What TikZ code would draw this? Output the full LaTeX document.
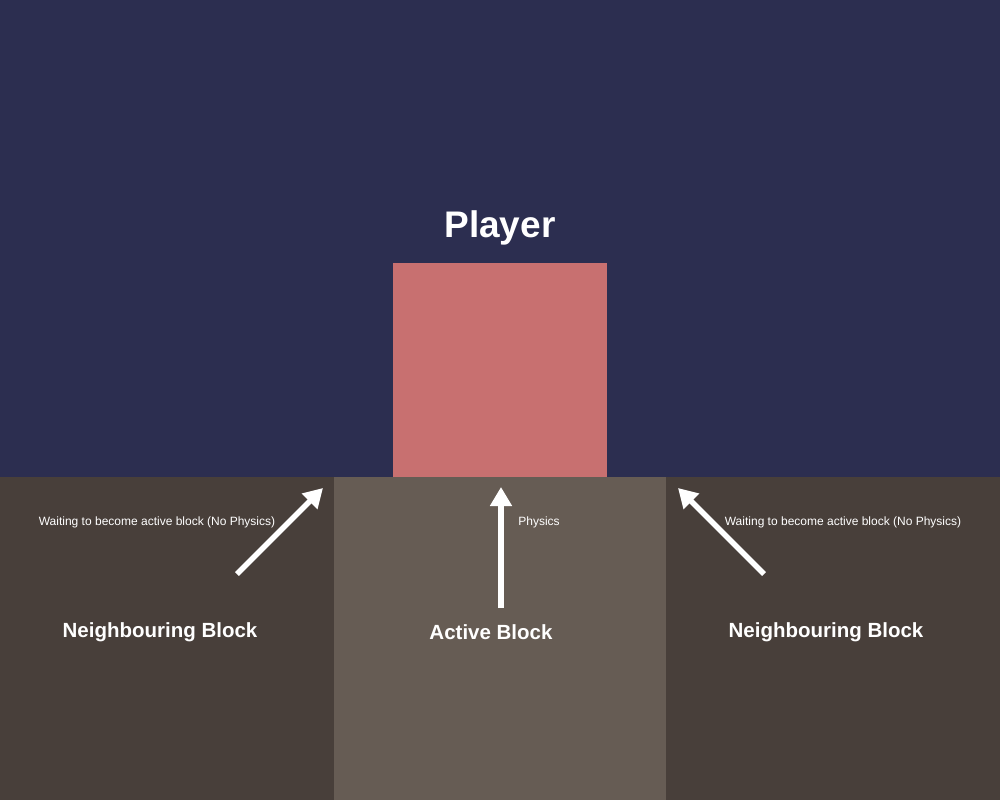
\documentclass[tikz,border=0pt]{standalone}
\usepackage{fontspec}
\setmainfont{Liberation Sans}
\usetikzlibrary{arrows.meta}
\definecolor{sky}{HTML}{2C2E50}
\definecolor{playerc}{HTML}{C87070}
\definecolor{sideblk}{HTML}{483F3A}
\definecolor{midblk}{HTML}{665C54}
\tikzset{
  blk/.style={draw=none,inner sep=0pt,outer sep=0pt,anchor=north west},
  title/.style={text=white,font=\bfseries\fontsize{20.5}{24}\selectfont},
  small/.style={text=white,font=\fontsize{12}{14}\selectfont},
  arr/.style={white,line width=5.5pt,-{Triangle[width=21pt,length=19pt]}}
}
\begin{document}
\begin{tikzpicture}[x=1pt,y=-1pt]
\useasboundingbox (0,0) rectangle (1000,800);
\fill[sky] (0,0) rectangle (1000,800);
\node[blk,fill=sideblk,minimum width=334pt,minimum height=323pt] (lb) at (0,477) {};
\node[blk,fill=midblk,minimum width=332pt,minimum height=323pt] (mb) at (334,477) {};
\node[blk,fill=sideblk,minimum width=334pt,minimum height=323pt] (rb) at (666,477) {};
\node[blk,fill=playerc,minimum width=214pt,minimum height=214pt] (pl) at (393,263) {};
\node[text=white,font=\bfseries\fontsize{37}{44}\selectfont] (pt) at (500,228) {Player};
\node[title] (ln) at (160,632) {Neighbouring Block};
\node[title] (mn) at (491,632) {Active Block};
\node[title] (rn) at (826,632) {Neighbouring Block};
\node[small] (lw) at (157,522) {Waiting to become active block (No Physics)};
\node[small] (mp) at (539,522) {Physics};
\node[small] (rw) at (843,522) {Waiting to become active block (No Physics)};
\coordinate (la) at (237,574);
\coordinate (lt) at (323,488);
\coordinate (ma) at (501,608);
\coordinate (mt) at (501,487);
\coordinate (ra) at (764,574);
\coordinate (rt) at (678,488);
\draw[arr] (la) -- (lt);
\draw[arr] (ma) -- (mt);
\draw[arr] (ra) -- (rt);
\end{tikzpicture}
\end{document}
